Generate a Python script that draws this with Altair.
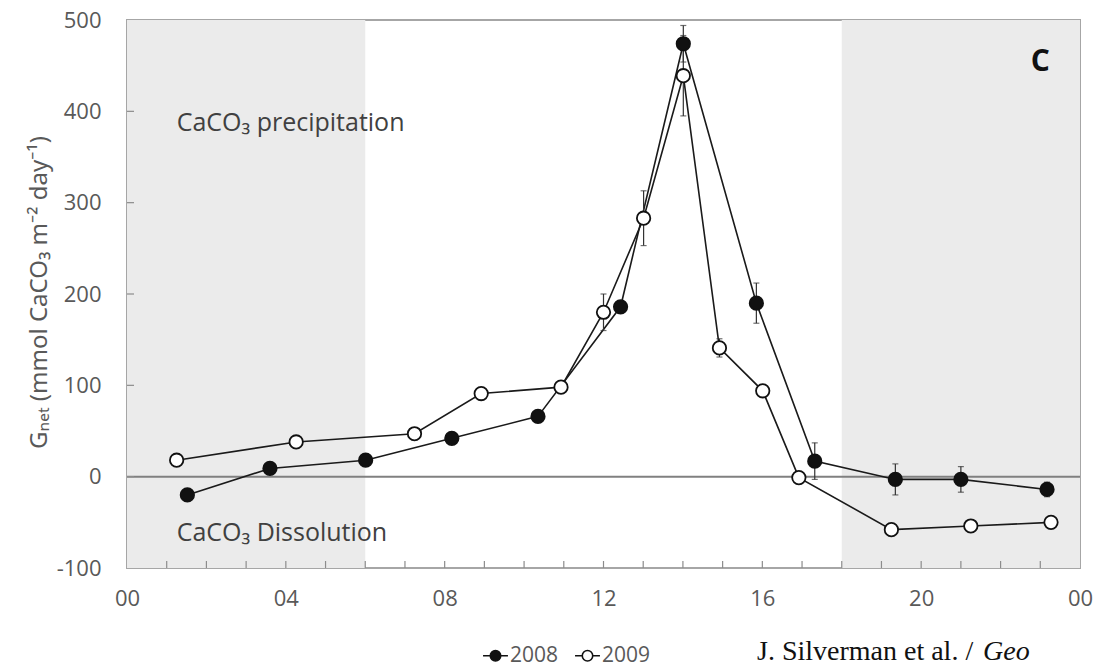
import altair as alt
import pandas as pd

# ---- data ----
hours_2008 = [1.52, 3.60, 6.01, 8.18, 10.35, 12.43, 14.01, 15.85, 17.32, 19.35, 21.0, 23.17]
g_2008 = [-20, 9, 18, 42, 66, 186, 474, 190, 17, -3, -3, -14]
err_2008 = [0, 0, 0, 0, 0, 6, 20, 22, 20, 17, 14, 8]

hours_2009 = [1.25, 4.26, 7.24, 8.92, 10.93, 12.0, 13.01, 14.01, 14.92, 16.01, 16.92, 19.25, 21.25, 23.27]
g_2009 = [18, 38, 47, 91, 98, 180, 283, 439, 141, 94, -1, -58, -54, -50]
err_2009 = [0, 0, 0, 0, 0, 20, 30, 44, 10, 5, 0, 0, 0, 0]

night_start = [0, 18]
night_end = [6, 24]

x_tick_hours = list(range(1, 24))
x_label_hours = list(range(0, 25, 4))
y_tick_values = [0, 100, 200, 300, 400]
y_label_values = list(range(-100, 501, 100))

ann_text = ["CaCO\u2083 precipitation", "CaCO\u2083 Dissolution"]
ann_hour = [1.25, 1.25]
ann_value = [387, -62]

panel_label = ["C"]
panel_hour = [23.0]
panel_value = [454]

y_title = "G\u2099\u2091\u209c (mmol CaCO\u2083 m\u207b\u00b2 day\u207b\u00b9)"

W, H = 953, 548

df = pd.concat([
    pd.DataFrame({"hour": hours_2008, "g": g_2008, "err": err_2008, "year": "2008"}),
    pd.DataFrame({"hour": hours_2009, "g": g_2009, "err": err_2009, "year": "2009"}),
], ignore_index=True)
df["lo"] = df["g"] - df["err"]
df["hi"] = df["g"] + df["err"]
df_err = df[df["err"] > 0]

xs = alt.Scale(domain=[0, 24], nice=False, zero=False)
ys = alt.Scale(domain=[-100, 500], nice=False, zero=False)

x_axis = alt.Axis(values=x_label_hours, labelExpr="(datum.value % 24 < 10 ? '0' : '') + (datum.value % 24)",
                  ticks=False, domain=False, grid=False, labelPadding=20, labelFontSize=22,
                  labelColor="#595959", labelFont="Open Sans", labelFlush=False, labelOverlap=False, title=None)
y_axis = alt.Axis(values=y_label_values, labelExpr="datum.value < 0 ? '-' + abs(datum.value) : '' + datum.value",
                  ticks=False, domain=False, grid=False, labelPadding=26,
                  labelFontSize=22, labelColor="#595959", labelFont="Open Sans", title=y_title,
                  titleFont="Noto Sans", titleFontSize=24, titleFontWeight="normal", titleColor="#595959",
                  titleX=-88, titleY=H / 2 - 2, titleAngle=270, titleBaseline="middle", titleAlign="center")

shade = alt.Chart(pd.DataFrame({"s": night_start, "e": night_end})).mark_rect(color="#ebebeb").encode(
    x=alt.X("s:Q", scale=xs, axis=x_axis), x2="e:Q",
    y=alt.datum(-100, scale=ys, axis=y_axis), y2=alt.datum(500))

zero = alt.Chart(pd.DataFrame({"z": [0]})).mark_rule(color="#808080", strokeWidth=2).encode(
    y=alt.Y("z:Q", scale=ys))

xt = alt.Chart(pd.DataFrame({"h": x_tick_hours})).mark_rule(color="#8c8c8c", strokeWidth=1.2).encode(
    x=alt.X("h:Q", scale=xs), y=alt.value(H - 7), y2=alt.value(H))
yt = alt.Chart(pd.DataFrame({"v": y_tick_values})).mark_rule(color="#8c8c8c", strokeWidth=1.2).encode(
    y=alt.Y("v:Q", scale=ys), x=alt.value(0), x2=alt.value(7))

lines = alt.Chart(df).mark_line(color="#1a1a1a", strokeWidth=1.6).encode(
    x=alt.X("hour:Q", scale=xs), y=alt.Y("g:Q", scale=ys), detail="year:N")

ebar = alt.Chart(df_err).mark_rule(color="#333333", strokeWidth=1.2).encode(
    x=alt.X("hour:Q", scale=xs), y=alt.Y("lo:Q", scale=ys), y2="hi:Q")
cap_lo = alt.Chart(df_err).mark_tick(color="#333333", thickness=1.2, size=6, orient="horizontal").encode(
    x=alt.X("hour:Q", scale=xs), y=alt.Y("lo:Q", scale=ys))
cap_hi = alt.Chart(df_err).mark_tick(color="#333333", thickness=1.2, size=6, orient="horizontal").encode(
    x=alt.X("hour:Q", scale=xs), y=alt.Y("hi:Q", scale=ys))

sym = "M -1 0 L -0.42 0 M 0.42 0 L 1 0 M 0.42 0 A 0.42 0.42 0 1 1 -0.42 0 A 0.42 0.42 0 1 1 0.42 0 Z"
pts = alt.Chart(df).mark_circle(stroke="#111111", strokeWidth=1.8, size=180, opacity=1).encode(
    x=alt.X("hour:Q", scale=xs), y=alt.Y("g:Q", scale=ys),
    fill=alt.Fill("year:N", scale=alt.Scale(domain=["2008", "2009"], range=["#111111", "#ffffff"]),
                  legend=alt.Legend(orient="none", legendX=355, legendY=622, direction="horizontal",
                                    title=None, symbolType=sym, symbolSize=620, symbolStrokeColor="#111111",
                                    symbolStrokeWidth=1.6, labelFontSize=21, labelColor="#595959",
                                    labelFont="Open Sans", labelOffset=1, columnPadding=12)))

ann = alt.Chart(pd.DataFrame({"t": ann_text, "h": ann_hour, "v": ann_value})).mark_text(
    align="left", baseline="middle", font="Open Sans", fontSize=25, color="#404040").encode(
    x=alt.X("h:Q", scale=xs), y=alt.Y("v:Q", scale=ys), text="t:N")

plab = alt.Chart(pd.DataFrame({"t": panel_label, "h": panel_hour, "v": panel_value})).mark_text(
    align="center", baseline="middle", font="Open Sans", fontSize=30, fontWeight="bold", color="#111111").encode(
    x=alt.X("h:Q", scale=xs), y=alt.Y("v:Q", scale=ys), text="t:N")

cite1 = alt.Chart(pd.DataFrame({"t": ["J. Silverman et al. / "]})).mark_text(
    align="left", baseline="alphabetic", font="Liberation Serif", fontSize=28, color="#111111").encode(
    x=alt.value(630), y=alt.value(640), text="t:N")
cite2 = alt.Chart(pd.DataFrame({"t": ["Geo"]})).mark_text(
    align="left", baseline="alphabetic", font="Liberation Serif", fontSize=28, fontStyle="italic",
    color="#111111").encode(x=alt.value(856), y=alt.value(640), text="t:N")

chart = alt.layer(shade, zero, xt, yt, lines, ebar, cap_lo, cap_hi, pts, ann, plab, cite1, cite2).properties(
    width=W, height=H,
    autosize=alt.AutoSizeParams(type="none"),
    padding={"left": 127, "top": 20, "right": 23, "bottom": 102},
    background="white",
).configure_view(stroke="#a6a6a6", strokeWidth=2)

chart.save("out.html", embed_options={"renderer": "svg", "actions": False})
